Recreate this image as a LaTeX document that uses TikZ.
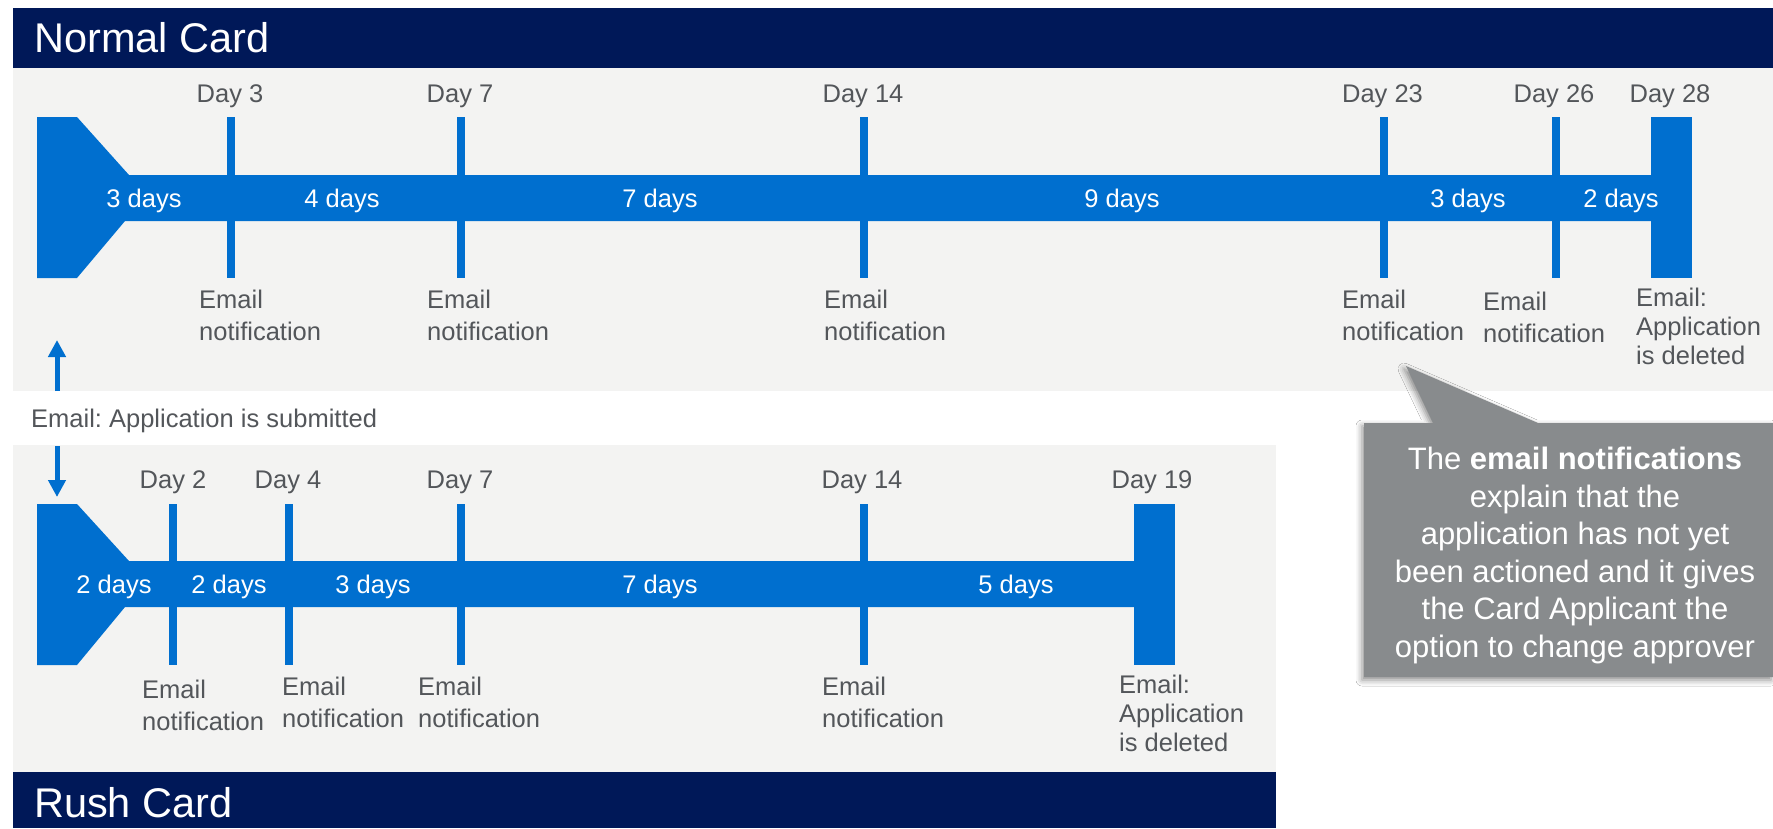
\documentclass[tikz,border=0pt]{standalone}
\usepackage{fontspec}
\setmainfont{Liberation Sans}
\frenchspacing
\usetikzlibrary{arrows.meta,shadows.blur}
\definecolor{navy}{RGB}{0,24,88}
\definecolor{tblue}{RGB}{0,111,207}
\definecolor{panel}{RGB}{243,243,242}
\definecolor{txtgray}{RGB}{83,86,90}
\definecolor{callgray}{RGB}{136,139,141}
\tikzset{
  daylbl/.style={font=\fontsize{25.5}{30}\selectfont, text=txtgray, anchor=base, inner sep=0},
  durlbl/.style={font=\fontsize{25.5}{30}\selectfont, text=white, anchor=base, inner sep=0},
  maillbl/.style={font=\fontsize{25.5}{32}\selectfont, text=txtgray, anchor=north west, inner sep=0, align=left},
  dellbl/.style={font=\fontsize{25.5}{29}\selectfont, text=txtgray, anchor=north west, inner sep=0, align=left},
  headlbl/.style={font=\fontsize{41.5}{48}\selectfont, text=white, anchor=base west, inner sep=0},
  ticknode/.style={fill=tblue, draw=none, inner sep=0, minimum width=8pt, minimum height=161pt},
  endnode/.style={fill=tblue, draw=none, inner sep=0, minimum width=41pt, minimum height=161pt},
  arr/.style={draw=tblue, line width=5pt, -{Triangle[width=17pt,length=17pt]}},
}
\begin{document}
\begin{tikzpicture}[x=1pt,y=-1pt]
\useasboundingbox (0,0) rectangle (1773,828);
\fill[white] (0,0) rectangle (1773,828);
% panels and headers
\fill[navy] (13,8) rectangle (1773,68);
\fill[panel] (13,68) rectangle (1773,391);
\fill[panel] (13,445) rectangle (1276,772);
\fill[navy] (13,772) rectangle (1276,828);
\node[headlbl] (hnormal) at (34,52) {Normal Card};
\node[headlbl] (hrush) at (34,817) {Rush Card};

% ---------- Normal timeline ----------
\fill[tblue] (37,117) -- (77,117) -- (129,175) -- (1652,175) -- (1652,221) -- (125,221) -- (77,278) -- (37,278) -- cycle;
\node[endnode] (n28) at (1671.5,197.5) {};
\node[ticknode] (n3) at (231,197.5) {};
\node[ticknode] (n7) at (461,197.5) {};
\node[ticknode] (n14) at (864,197.5) {};
\node[ticknode] (n23) at (1384,197.5) {};
\node[ticknode] (n26) at (1555.5,197.5) {};

\node[daylbl] (dn3) at (230,102) {Day 3};
\node[daylbl] (dn7) at (460,102) {Day 7};
\node[daylbl] (dn14) at (863,102) {Day 14};
\node[daylbl] (dn23) at (1382.5,102) {Day 23};
\node[daylbl] (dn26) at (1554,102) {Day 26};
\node[daylbl] (dn28) at (1670,102) {Day 28};

\node[durlbl] (un1) at (144,207) {3 days};
\node[durlbl] (un2) at (342,207) {4 days};
\node[durlbl] (un3) at (660,207) {7 days};
\node[durlbl] (un4) at (1122,207) {9 days};
\node[durlbl] (un5) at (1468,207) {3 days};
\node[durlbl] (un6) at (1621,207) {2 days};

\node[maillbl] (en3) at (199,290) {Email\\notification};
\node[maillbl] (en7) at (427,290) {Email\\notification};
\node[maillbl] (en14) at (824,290) {Email\\notification};
\node[maillbl] (en23) at (1342,290) {Email\\notification};
\node[maillbl] (en26) at (1483,292) {Email\\notification};
\node[dellbl] (en28) at (1636,288) {Email:\\Application\\is deleted};

% ---------- submitted ----------
\coordinate (upS) at (57,391);
\coordinate (upE) at (57,340);
\coordinate (dnS) at (57,446);
\coordinate (dnE) at (57,497);
\draw[arr] (upS) -- (upE);
\draw[arr] (dnS) -- (dnE);
\node[font=\fontsize{25.5}{30}\selectfont, text=txtgray, anchor=base west, inner sep=0] (sub) at (31,427) {Email: Application is submitted};

% ---------- Rush timeline ----------
\fill[tblue] (37,504) -- (77,504) -- (129,561) -- (1135,561) -- (1135,607) -- (125,607) -- (77,665) -- (37,665) -- cycle;
\node[endnode] (r19) at (1154.5,584.5) {};
\node[ticknode] (r2) at (173,584.5) {};
\node[ticknode] (r4) at (289,584.5) {};
\node[ticknode] (r7) at (461,584.5) {};
\node[ticknode] (r14) at (864,584.5) {};

\node[daylbl] (dr2) at (173,488) {Day 2};
\node[daylbl] (dr4) at (288,488) {Day 4};
\node[daylbl] (dr7) at (460,488) {Day 7};
\node[daylbl] (dr14) at (862,488) {Day 14};
\node[daylbl] (dr19) at (1152,488) {Day 19};

\node[durlbl] (ur1) at (114,593) {2 days};
\node[durlbl] (ur2) at (229,593) {2 days};
\node[durlbl] (ur3) at (373,593) {3 days};
\node[durlbl] (ur4) at (660,593) {7 days};
\node[durlbl] (ur5) at (1016,593) {5 days};

\node[maillbl] (er2) at (142,680) {Email\\notification};
\node[maillbl] (er4) at (282,677) {Email\\notification};
\node[maillbl] (er7) at (418,677) {Email\\notification};
\node[maillbl] (er14) at (822,677) {Email\\notification};
\node[dellbl] (er19) at (1119,675) {Email:\\Application\\is deleted};

% ---------- callout ----------
\fill[callgray, blur shadow={shadow xshift=-2pt, shadow yshift=-3pt, shadow blur radius=6pt, shadow opacity=45}]
  (1364,423) -- (1433,423) -- (1406,366) -- (1538,423) -- (1773,423) -- (1773,677) -- (1364,677) -- cycle;
\node[font=\fontsize{31}{37.5}\selectfont, text=white, anchor=north, inner sep=0, align=center] (call) at (1575,447)
  {The \textbf{email notifications}\\explain that the\\application has not yet\\been actioned and it gives\\the Card Applicant the\\option to change approver};
\end{tikzpicture}
\end{document}
